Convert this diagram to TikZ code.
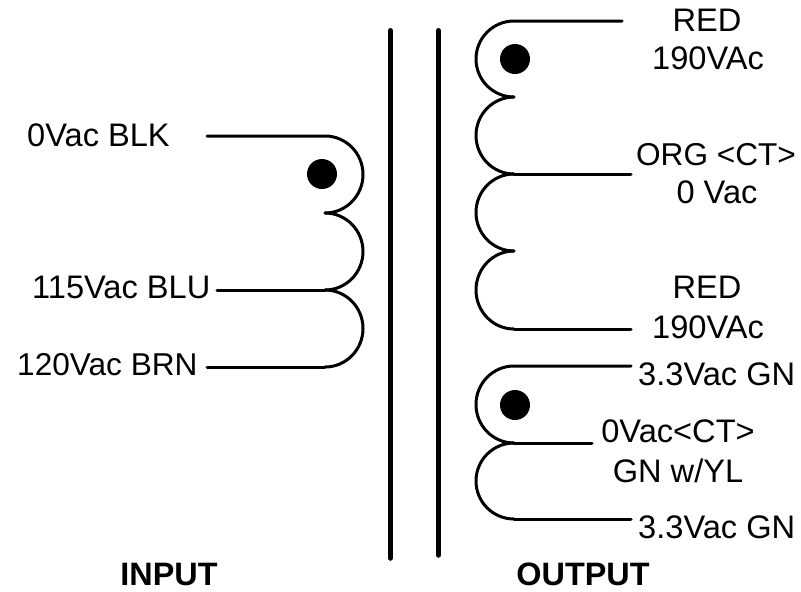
\documentclass[tikz,border=0pt]{standalone}
\usepackage{fontspec}
\setmainfont{Liberation Sans}
\tikzset{
  wire/.style={draw=black,line width=3pt,line cap=round},
  bar/.style={draw=black,line width=5.5pt,line cap=round},
  spot/.style={circle,fill=black,inner sep=0pt,minimum size=30pt},
  lab/.style={inner sep=0pt,anchor=base west,font=\fontsize{32.6}{33}\selectfont},
  labc/.style={inner sep=0pt,anchor=base,font=\fontsize{32.6}{33}\selectfont},
  labs/.style={inner sep=0pt,font=\fontsize{31.6}{33}\selectfont},
  head/.style={inner sep=0pt,anchor=base,font=\fontsize{32.4}{33}\selectfont\bfseries}
}
\begin{document}
\begin{tikzpicture}[x=1pt,y=-1pt]
\useasboundingbox (0,0) rectangle (801,592);
% core
\coordinate (c1t) at (390.3,30.75); \coordinate (c1b) at (390.3,558);
\coordinate (c2t) at (438.3,30.75); \coordinate (c2b) at (438.3,555);
\draw[bar] (c1t) -- (c1b);
\draw[bar] (c2t) -- (c2b);
% input winding
\coordinate (i0) at (325,136); \coordinate (i0e) at (207,136);
\coordinate (i1) at (325,213);
\coordinate (i2) at (325,290); \coordinate (i2e) at (217,290);
\coordinate (i3) at (325,367); \coordinate (i3e) at (207,367);
\draw[wire] (i0e) -- (i0) arc[start angle=90,end angle=-90,x radius=38,y radius=-38.5];
\draw[wire] (i1) arc[start angle=90,end angle=-90,x radius=38,y radius=-38.5];
\draw[wire] (i2) arc[start angle=90,end angle=-90,x radius=38,y radius=-38.5];
\draw[wire] (i2e) -- (i2);
\draw[wire] (i3e) -- (i3);
\node[spot] (d1) at (322,174) {};
% output winding 1
\coordinate (a0) at (514,21); \coordinate (a0e) at (622,21);
\coordinate (a1) at (514,97);
\coordinate (a2) at (514,174); \coordinate (a2e) at (631,174);
\coordinate (a3) at (514,251);
\coordinate (a4) at (514,329); \coordinate (a4e) at (631,329);
\draw[wire] (a0e) -- (a0) arc[start angle=90,end angle=270,x radius=38,y radius=-38];
\draw[wire] (a1) arc[start angle=90,end angle=270,x radius=38,y radius=-38.5];
\draw[wire] (a2) arc[start angle=90,end angle=270,x radius=38,y radius=-38.5];
\draw[wire] (a3) arc[start angle=90,end angle=270,x radius=38,y radius=-39];
\draw[wire] (a2e) -- (a2);
\draw[wire] (a4e) -- (a4);
\node[spot] (d2) at (515,59) {};
% output winding 2
\coordinate (b0) at (514,366); \coordinate (b0e) at (631,366);
\coordinate (b1) at (514,443); \coordinate (b1e) at (592,443);
\coordinate (b2) at (514,519); \coordinate (b2e) at (631,519);
\draw[wire] (b0e) -- (b0) arc[start angle=90,end angle=270,x radius=38,y radius=-38.5];
\draw[wire] (b1) arc[start angle=90,end angle=270,x radius=38,y radius=-38];
\draw[wire] (b1e) -- (b1);
\draw[wire] (b2e) -- (b2);
\node[spot] (d3) at (515,405) {};
% labels
\node[lab] (l0) at (27,146.5) {0Vac BLK};
\node[lab] (l1) at (32,298.5) {115Vac BLU};
\node[labs,anchor=base west] (l2) at (17,375.5) {120Vac BRN};
\node[labc] (r1) at (707,31) {RED};
\node[labc] (r2) at (708,69) {190VAc};
\node[labs,anchor=base] (r3) at (716,165) {ORG <CT>};
\node[labc] (r4) at (717,203) {0 Vac};
\node[labc] (r5) at (707,298) {RED};
\node[labc] (r6) at (708,338) {190VAc};
\node[lab] (g1) at (638,385.5) {3.3Vac GN};
\node[labc] (g2) at (678,442.5) {0Vac<CT>};
\node[labc] (g3) at (678,482) {GN w/YL};
\node[lab] (g4) at (638,538.5) {3.3Vac GN};
\node[head] (h1) at (169,585) {INPUT};
\node[head] (h2) at (583,585) {OUTPUT};
\end{tikzpicture}
\end{document}
